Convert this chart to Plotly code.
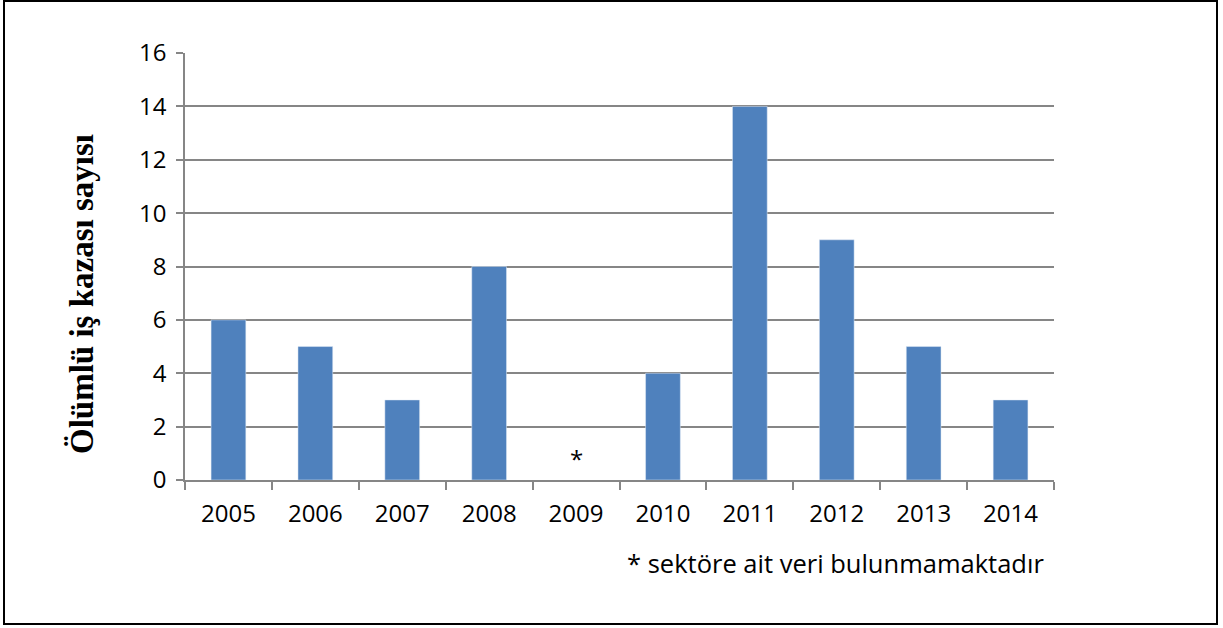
import plotly.graph_objects as go

years = ["2005", "2006", "2007", "2008", "2009", "2010", "2011", "2012", "2013", "2014"]
values = [6, 5, 3, 8, None, 4, 14, 9, 5, 3]
missing_year = "2009"
y_title = "Ölümlü iş kazası sayısı"
footnote = "* sektöre ait veri bulunmamaktadır"

W, H = 1223, 628
L, R, T, B = 185, 169, 53, 148
pw, ph = W - L - R, H - T - B

def px(x):
    return (x - L) / pw

def py(y):
    return (H - B - y) / ph

fig = go.Figure(go.Bar(x=years, y=values, marker_color="#4F81BD", width=0.4))

fig.add_annotation(x=years.index(missing_year), y=0.8, text="*", showarrow=False,
                   font=dict(family="Open Sans", size=24, color="black"))
fig.add_annotation(x=px(82), y=py(294), xref="paper", yref="paper",
                   xanchor="center", yanchor="middle",
                   text="<b>" + y_title + "</b>",
                   textangle=-90, showarrow=False,
                   font=dict(family="Liberation Serif", size=33, color="black"))
fig.add_annotation(x=px(1046), y=py(563), xref="paper", yref="paper", text=footnote,
                   xanchor="right", yanchor="middle", showarrow=False,
                   font=dict(family="Open Sans", size=25.5, color="black"))
fig.add_shape(type="rect", xref="paper", yref="paper",
              x0=px(4), x1=px(1217), y0=py(1), y1=py(624),
              line=dict(color="black", width=2))

fig.update_layout(
    width=W, height=H, margin=dict(l=L, r=R, t=T, b=B),
    plot_bgcolor="white", paper_bgcolor="white", showlegend=False,
    font=dict(family="Open Sans", size=24, color="black"),
)
fig.update_xaxes(type="category", range=[-0.5, len(years) - 0.5], tickangle=0,
                 showline=True, linecolor="#868686", linewidth=1.5,
                 ticks="outside", tickson="boundaries", ticklen=8, tickcolor="#868686",
                 tickwidth=1.5, showgrid=False, ticklabelstandoff=11)
fig.update_yaxes(range=[0, 16], dtick=2, showline=True, linecolor="#868686", linewidth=1.5,
                 ticks="outside", ticklen=7, tickcolor="#868686", tickwidth=1.5,
                 showgrid=True, gridcolor="#868686", gridwidth=1.5, zeroline=False,
                 ticklabelstandoff=5)

fig.write_html("out.html", config={"displayModeBar": False},
               post_script="document.body.style.margin='0px';")
